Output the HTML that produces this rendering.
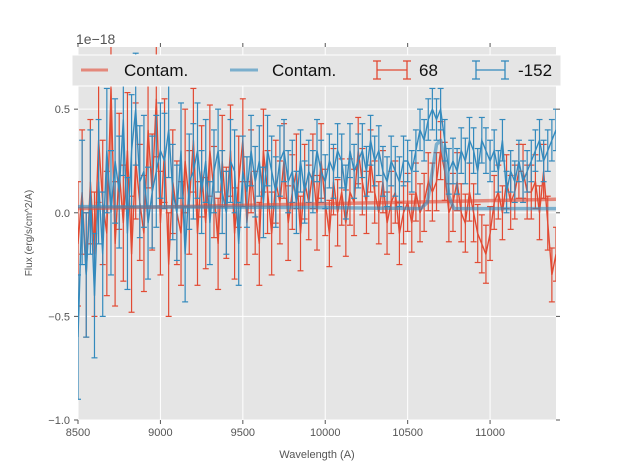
<!DOCTYPE html>
<html><head><meta charset="utf-8"><style>
body{margin:0;background:#fff;font-family:"Liberation Sans","DejaVu Sans",sans-serif}
svg{display:block}
</style></head><body>
<svg id="chart" width="617" height="467" viewBox="0 0 617 467" xmlns="http://www.w3.org/2000/svg">
<rect x="78" y="47" width="478" height="373" fill="#e5e5e5"/>
<g id="grid"></g>
<g id="ticks"></g>
<g id="series"></g>
<text x="76" y="44" font-size="14" fill="#555">1e−18</text>
<text x="317" y="458" font-size="11" fill="#555" text-anchor="middle">Wavelength (A)</text>
<text x="32" y="233" font-size="10" fill="#555" text-anchor="middle" transform="rotate(-90 32 233)">Flux (erg/s/cm^2/A)</text>
<g>
<rect x="72" y="55" width="489" height="31" fill="#e5e5e5" stroke="#fff" stroke-width="1"/>
<line x1="81" y1="70" x2="108" y2="70" stroke="#e24a33" stroke-opacity="0.6" stroke-width="3"/>
<text x="124" y="76" font-size="17" fill="#111">Contam.</text>
<line x1="230" y1="70" x2="258" y2="70" stroke="#348abd" stroke-opacity="0.6" stroke-width="3"/>
<text x="272" y="76" font-size="17" fill="#111">Contam.</text>
<g stroke="#e24a33" stroke-width="1.3"><line x1="377" y1="70" x2="407" y2="70"/><line x1="377" y1="61" x2="377" y2="79"/><line x1="407" y1="61" x2="407" y2="79"/><line x1="373" y1="61" x2="381" y2="61"/><line x1="373" y1="79" x2="381" y2="79"/><line x1="403" y1="61" x2="411" y2="61"/><line x1="403" y1="79" x2="411" y2="79"/></g>
<text x="419" y="76" font-size="17" fill="#111">68</text>
<g stroke="#348abd" stroke-width="1.3"><line x1="476" y1="70" x2="505" y2="70"/><line x1="476" y1="61" x2="476" y2="79"/><line x1="505" y1="61" x2="505" y2="79"/><line x1="472" y1="61" x2="480" y2="61"/><line x1="472" y1="79" x2="480" y2="79"/><line x1="501" y1="61" x2="509" y2="61"/><line x1="501" y1="79" x2="509" y2="79"/></g>
<text x="518" y="76" font-size="17" fill="#111">-152</text>
</g>
</svg>
<script>
const xStart = 8500;
const xStep = 25;
const xTicks = [8500, 9000, 9500, 10000, 10500, 11000];
const yTicks = [-1.0, -0.5, 0.0, 0.5];
const yTickLabels = ["−1.0", "−0.5", "0.0", "0.5"];
const redFlux = [-0.15,0.1,-0.3,0.15,-0.2,0.35,0.05,-0.1,0.6,-0.15,
0.2,-0.05,0.3,-0.2,0.25,0.05,-0.1,0.4,0.1,0.55,
-0.05,0.3,-0.25,0.15,0.0,-0.1,0.25,0.05,0.35,-0.1,
0.2,-0.05,0.3,0.1,-0.15,0.25,0.0,0.3,-0.1,0.15,
0.35,-0.05,0.2,0.0,-0.15,0.3,0.1,-0.1,0.15,0.05,
0.25,-0.05,0.1,0.2,-0.1,0.15,0.05,0.2,0.0,0.25,
0.05,-0.1,0.15,0.0,0.1,-0.05,0.1,0.05,0.3,0.15,
0.05,0.25,0.1,0.0,0.15,-0.05,0.05,0.1,-0.1,0.0,
0.05,-0.05,0.1,0.0,0.05,0.15,0.1,0.15,0.3,0.2,
0.0,0.05,0.15,0.0,-0.05,0.1,0.0,-0.1,-0.15,-0.2,
-0.1,0.05,0.1,0.0,0.15,0.05,0.1,0.2,0.2,0.1,
0.1,0.15,0.0,0.2,-0.05,-0.3,-0.2];
const blueFlux = [-0.6,0.05,-0.3,0.1,-0.4,0.15,-0.2,0.3,0.0,0.25,
0.1,0.45,-0.1,0.3,0.5,0.15,0.2,-0.05,0.1,0.2,
0.3,0.25,0.4,0.1,0.0,0.3,-0.2,0.15,0.2,0.3,
0.1,0.25,-0.05,0.2,0.3,0.1,0.0,0.25,0.2,-0.15,
0.2,0.1,0.3,0.15,0.25,0.05,0.3,0.2,0.1,0.25,
0.3,0.15,0.2,0.05,0.25,0.1,0.2,0.15,0.3,0.2,
0.15,0.25,0.2,0.3,0.25,0.1,0.3,0.2,0.25,0.3,
0.2,0.35,0.25,0.3,0.2,0.15,0.25,0.2,0.15,0.25,
0.25,0.2,0.3,0.4,0.35,0.45,0.5,0.45,0.5,0.35,
0.2,0.25,0.2,0.3,0.25,0.35,0.3,0.2,0.35,0.3,
0.25,0.3,0.2,0.35,0.1,0.2,0.15,0.25,0.15,0.2,
0.25,0.3,0.35,0.25,0.3,0.35,0.4];
const redErrBlock = [0.3,0.28,0.25,0.22,0.2,0.18,0.16,0.15,0.14,0.14,0.13,0.13];
const blueErrBlock = [0.3,0.27,0.23,0.2,0.17,0.15,0.13,0.12,0.1,0.11,0.1,0.1];
const contamRedX = [8500, 11400];
const contamRedY = [0.02, 0.065];
const contamBlueX = [8500,10000,10580,10620,10650,10675,10700,10725,10750,10780,11400];
const contamBlueY = [0.03,0.025,0.02,0.05,0.2,0.33,0.35,0.25,0.08,0.02,0.02];

const L=78,R=556,T=47,B=420, XMIN=8500,XMAX=11400,YMIN=-1.0,YMAX=0.8;
const sx=v=>L+(v-XMIN)/(XMAX-XMIN)*(R-L);
const sy=v=>B-(v-YMIN)/(YMAX-YMIN)*(B-T);
const NS="http://www.w3.org/2000/svg";
function mk(tag,attrs,parent){const e=document.createElementNS(NS,tag);for(const k in attrs)e.setAttribute(k,attrs[k]);parent.appendChild(e);return e;}
const grid=document.getElementById('grid'),ticks=document.getElementById('ticks'),ser=document.getElementById('series');
xTicks.forEach(v=>{
  const x=sx(v);
  const g=mk('line',{x1:x,x2:x,y1:T,y2:B,stroke:'#fff','stroke-width':1},grid);
  
  
  mk('line',{x1:x,x2:x,y1:B,y2:B+4,stroke:'#555'},ticks);
  mk('line',{x1:x,x2:x,y1:T,y2:T-4,stroke:'#555'},ticks);
  const t=mk('text',{x:x,y:B+16,'font-size':11,fill:'#555','text-anchor':'middle'},ticks);
  t.textContent=v;
  
  
});
yTicks.forEach((v,i)=>{
  const y=sy(v);
  const g=mk('line',{x1:L,x2:R,y1:y,y2:y,stroke:'#fff','stroke-width':1},grid);
  
  
  mk('line',{x1:L-4,x2:L,y1:y,y2:y,stroke:'#555'},ticks);
  mk('line',{x1:R,x2:R+4,y1:y,y2:y,stroke:'#555'},ticks);
  const t=mk('text',{x:L-8,y:y+4,'font-size':11,fill:'#555','text-anchor':'end'},ticks);
  t.textContent=yTickLabels[i];
  
  
});
function drawErr(flux,errs,color,name){
  const g=mk('g',{stroke:color,'stroke-width':1.2,fill:'none'},ser);
  
  
  let d='';
  flux.forEach((v,i)=>{
    const x=sx(xStart+i*xStep), e=errs[Math.floor(i/10)];
    const y1=sy(v-e), y2=sy(v+e);
    mk('line',{x1:x,x2:x,y1:y1,y2:y2},g);
    mk('line',{x1:x-3,x2:x+3,y1:y1,y2:y1},g);
    mk('line',{x1:x-3,x2:x+3,y1:y2,y2:y2},g);
    d+=(i?'L':'M')+x.toFixed(1)+' '+sy(v).toFixed(1);
  });
  mk('path',{d:d,'stroke-width':1.4},g);
}
function drawLine(xs,ys,color,name){
  const d=xs.map((x,i)=>(i?'L':'M')+sx(x).toFixed(1)+' '+sy(ys[i]).toFixed(1)).join('');
  const p=mk('path',{d:d,stroke:color,'stroke-opacity':0.6,'stroke-width':3.5,fill:'none','stroke-linejoin':'round'},ser);
  
  
}
const clip=mk('clipPath',{id:'c'},document.getElementById('chart'));
mk('rect',{x:L,y:T,width:R-L,height:B-T},clip);
ser.setAttribute('clip-path','url(#c)');
drawErr(redFlux,redErrBlock,'#e24a33','series-68');
drawErr(blueFlux,blueErrBlock,'#348abd','series-minus152');
drawLine(contamRedX,contamRedY,'#e24a33','contam-red-line');
drawLine(contamBlueX,contamBlueY,'#348abd','contam-blue-line');
</script>
</body></html>
